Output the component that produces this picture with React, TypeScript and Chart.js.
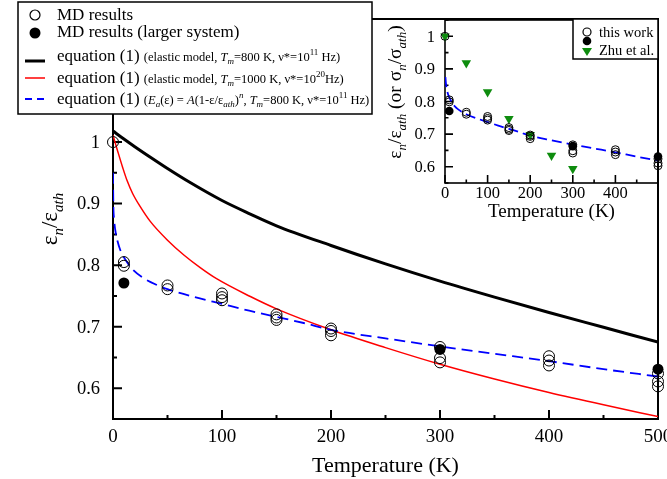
import React, { useEffect, useRef } from 'react';
import { Chart, registerables } from 'chart.js';
Chart.register(...registerables);

// ---------- data ----------
const mdTemps = [0, 10, 10, 50, 50, 100, 100, 100, 150, 150, 150, 200, 200, 200, 300, 300, 300, 400, 400, 400, 500, 500, 500];
const mdValues = [1.0, 0.805, 0.799, 0.767, 0.761, 0.754, 0.748, 0.743, 0.72, 0.715, 0.711, 0.697, 0.693, 0.686, 0.667, 0.649, 0.642, 0.652, 0.645, 0.637, 0.624, 0.611, 0.603];
const largeTemps = [10, 300, 500];
const largeValues = [0.771, 0.663, 0.631];

const blackTemps = [0, 10, 20, 35, 50, 70, 100, 126, 150, 200, 250, 300, 350, 400, 450, 500];
const blackValues = [1.018, 1.005, 0.9925, 0.9745, 0.957, 0.935, 0.905, 0.883, 0.864, 0.832, 0.802, 0.774, 0.748, 0.723, 0.699, 0.675];

const redTemps = [0, 4.5, 9, 13, 18, 25, 34, 50, 65, 80, 95, 126, 150, 200, 250, 300, 350, 400, 450, 500];
const redValues = [1.011, 0.984, 0.958, 0.937, 0.9165, 0.895, 0.8715, 0.8405, 0.8165, 0.796, 0.778, 0.749, 0.729, 0.695, 0.666, 0.639, 0.615, 0.593, 0.573, 0.554];

const blueTemps = [0, 0.3, 1, 2, 4, 7, 11, 18, 28, 40, 50, 75, 100, 125, 150, 175, 200, 250, 300, 350, 400, 450, 500];
const blueValues = [0.95, 0.9, 0.875, 0.858, 0.84, 0.823, 0.81, 0.793, 0.779, 0.768, 0.761, 0.748, 0.737, 0.726, 0.716, 0.706, 0.695, 0.681, 0.668, 0.656, 0.644, 0.631, 0.619];

const zhuTemps = [0, 50, 100, 150, 200, 250, 300];
const zhuValues = [1.0, 0.918, 0.829, 0.747, 0.698, 0.634, 0.594];

const mainXTicks = [0, 100, 200, 300, 400, 500];
const mainYTicks = [0.6, 0.7, 0.8, 0.9, 1.0];
const insetXTicks = [0, 100, 200, 300, 400];
const insetYTicks = [0.6, 0.7, 0.8, 0.9, 1.0];

// ---------- helpers ----------
const SERIF = '"Liberation Serif", "Times New Roman", serif';
type Seg = { t: string; size: number; italic?: boolean; dy?: number };
const fontOf = (s: Seg) => `${s.italic ? 'italic ' : ''}${s.size}px ${SERIF}`;

function richWidth(ctx: CanvasRenderingContext2D, segs: Seg[]) {
  let w = 0;
  for (const s of segs) {
    ctx.font = fontOf(s);
    w += ctx.measureText(s.t).width;
  }
  return w;
}
function drawRich(ctx: CanvasRenderingContext2D, segs: Seg[], x: number, y: number, align: 'left' | 'center') {
  let cx = align === 'center' ? x - richWidth(ctx, segs) / 2 : x;
  ctx.textAlign = 'left';
  ctx.textBaseline = 'alphabetic';
  ctx.fillStyle = '#000';
  for (const s of segs) {
    ctx.font = fontOf(s);
    ctx.fillText(s.t, cx, y + (s.dy || 0));
    cx += ctx.measureText(s.t).width;
  }
}
function drawRichRotated(ctx: CanvasRenderingContext2D, segs: Seg[], bx: number, cy: number) {
  ctx.save();
  ctx.translate(bx, cy);
  ctx.rotate(-Math.PI / 2);
  drawRich(ctx, segs, 0, 0, 'center');
  ctx.restore();
}
const pts = (xs: number[], ys: number[]) => xs.map((x, i) => ({ x, y: ys[i] }));
const fmt = (v: number) => (Math.abs(v - 1) < 1e-9 ? '1' : v.toFixed(1));

type FrameOpts = {
  lw: number; major: number; minor: number;
  xMinor: number; xMajor: number; yMinor: number; yMajor: number;
  xLabels: number[]; yLabels: number[]; fontSize: number; yFontSize: number;
  xLabelBaseline: number; yLabelGap: number;
};
function drawFrame(chart: any, o: FrameOpts) {
  const ctx: CanvasRenderingContext2D = chart.ctx;
  const { left, right, top, bottom } = chart.chartArea;
  const xs = chart.scales.x;
  const ys = chart.scales.y;
  ctx.save();
  ctx.strokeStyle = '#000';
  ctx.lineWidth = o.lw;
  ctx.strokeRect(left, top, right - left, bottom - top);
  ctx.beginPath();
  const nx = Math.round((xs.max - xs.min) / o.xMinor);
  for (let k = 0; k <= nx; k++) {
    const v = xs.min + k * o.xMinor;
    const r = v / o.xMajor;
    const len = Math.abs(r - Math.round(r)) < 1e-6 ? o.major : o.minor;
    const px = xs.getPixelForValue(v);
    ctx.moveTo(px, bottom);
    ctx.lineTo(px, bottom - len);
  }
  const ny = Math.round((ys.max - ys.min) / o.yMinor);
  for (let k = 0; k <= ny; k++) {
    const v = ys.min + k * o.yMinor;
    const r = v / o.yMajor;
    const len = Math.abs(r - Math.round(r)) < 1e-6 ? o.major : o.minor;
    const py = ys.getPixelForValue(v);
    ctx.moveTo(left, py);
    ctx.lineTo(left + len, py);
  }
  ctx.stroke();
  ctx.fillStyle = '#000';
  ctx.font = `${o.fontSize}px ${SERIF}`;
  ctx.textAlign = 'center';
  ctx.textBaseline = 'alphabetic';
  for (const v of o.xLabels) ctx.fillText(String(v), xs.getPixelForValue(v), o.xLabelBaseline);
  ctx.font = `${o.yFontSize}px ${SERIF}`;
  ctx.textAlign = 'right';
  ctx.textBaseline = 'middle';
  for (const v of o.yLabels) ctx.fillText(fmt(v), left - o.yLabelGap, ys.getPixelForValue(v) + 1);
  ctx.restore();
}

function circle(ctx: CanvasRenderingContext2D, x: number, y: number, r: number, filled: boolean) {
  ctx.beginPath();
  ctx.arc(x, y, r, 0, Math.PI * 2);
  if (filled) { ctx.fillStyle = '#000'; ctx.fill(); }
  else { ctx.strokeStyle = '#000'; ctx.lineWidth = 1.2; ctx.stroke(); }
}

const mainDecor = {
  id: 'mainDecor',
  beforeDatasetsDraw(chart: any) {
    drawFrame(chart, {
      lw: 2, major: 9, minor: 4, xMinor: 50, xMajor: 100, yMinor: 0.05, yMajor: 0.1,
      xLabels: mainXTicks, yLabels: mainYTicks, fontSize: 19, yFontSize: 18.5,
      xLabelBaseline: 442, yLabelGap: 13,
    });
    const ctx: CanvasRenderingContext2D = chart.ctx;
    const { left, right, top, bottom } = chart.chartArea;
    drawRich(ctx, [{ t: 'Temperature (K)', size: 22 }], (left + right) / 2, 472, 'center');
    drawRichRotated(ctx, [
      { t: 'ε', size: 23 }, { t: 'n', size: 15, italic: true, dy: 6 },
      { t: '/ε', size: 23 }, { t: 'ath', size: 15, italic: true, dy: 6 },
    ], 57, (top + bottom) / 2);
  },
  afterDraw(chart: any) {
    const ctx: CanvasRenderingContext2D = chart.ctx;
    ctx.save();
    ctx.fillStyle = '#fff';
    ctx.fillRect(18, 2, 354, 112);
    ctx.strokeStyle = '#000';
    ctx.lineWidth = 1.5;
    ctx.strokeRect(18, 2, 354, 112);
    circle(ctx, 35, 15, 5, false);
    circle(ctx, 35, 33, 5.5, true);
    ctx.lineWidth = 3; ctx.strokeStyle = '#000';
    ctx.beginPath(); ctx.moveTo(25, 61); ctx.lineTo(45, 61); ctx.stroke();
    ctx.lineWidth = 1.5; ctx.strokeStyle = '#ff0000';
    ctx.beginPath(); ctx.moveTo(25, 78); ctx.lineTo(45, 78); ctx.stroke();
    ctx.lineWidth = 2; ctx.strokeStyle = '#0000ff'; ctx.setLineDash([7, 5]);
    ctx.beginPath(); ctx.moveTo(25, 99); ctx.lineTo(45, 99); ctx.stroke();
    ctx.setLineDash([]);
    const tx = 57;
    const S = 12.5, s = 9;
    drawRich(ctx, [{ t: 'MD results', size: 17 }], tx, 20, 'left');
    drawRich(ctx, [{ t: 'MD results (larger system)', size: 17 }], tx, 37, 'left');
    drawRich(ctx, [
      { t: 'equation (1) ', size: 17 }, { t: '(elastic model, ', size: S }, { t: 'T', size: S, italic: true },
      { t: 'm', size: s, italic: true, dy: 3 }, { t: '=800 K, ν*=10', size: S }, { t: '11', size: s, dy: -6 },
      { t: ' Hz)', size: S },
    ], tx, 61, 'left');
    drawRich(ctx, [
      { t: 'equation (1) ', size: 17 }, { t: '(elastic model, ', size: S }, { t: 'T', size: S, italic: true },
      { t: 'm', size: s, italic: true, dy: 3 }, { t: '=1000 K, ν*=10', size: S }, { t: '20', size: s, dy: -6 },
      { t: 'Hz)', size: S },
    ], tx, 83, 'left');
    drawRich(ctx, [
      { t: 'equation (1) ', size: 17 }, { t: '(', size: S }, { t: 'E', size: S, italic: true },
      { t: 'a', size: s, italic: true, dy: 3 }, { t: '(ε) = ', size: S }, { t: 'A', size: S, italic: true },
      { t: '(1-ε/ε', size: S }, { t: 'ath', size: s, italic: true, dy: 3 }, { t: ')', size: S },
      { t: 'n', size: s, italic: true, dy: -6 }, { t: ', ', size: S }, { t: 'T', size: S, italic: true },
      { t: 'm', size: s, italic: true, dy: 3 }, { t: '=800 K, ν*=10', size: S }, { t: '11', size: s, dy: -6 },
      { t: ' Hz)', size: S },
    ], tx, 104, 'left');
    ctx.restore();
  },
};

const insetDecor = {
  id: 'insetDecor',
  beforeDatasetsDraw(chart: any) {
    drawFrame(chart, {
      lw: 1.6, major: 8, minor: 3.5, xMinor: 50, xMajor: 100, yMinor: 0.05, yMajor: 0.1,
      xLabels: insetXTicks, yLabels: insetYTicks, fontSize: 16.5, yFontSize: 16.5,
      xLabelBaseline: 198, yLabelGap: 10,
    });
    const ctx: CanvasRenderingContext2D = chart.ctx;
    const { left, right } = chart.chartArea;
    drawRich(ctx, [{ t: 'Temperature (K)', size: 19 }], (left + right) / 2, 217, 'center');
    drawRichRotated(ctx, [
      { t: 'ε', size: 19.5 }, { t: 'n', size: 13, italic: true, dy: 5 },
      { t: '/ε', size: 19.5 }, { t: 'ath', size: 13, italic: true, dy: 5 },
      { t: ' (or σ', size: 19.5 }, { t: 'n', size: 13, italic: true, dy: 5 },
      { t: '/σ', size: 19.5 }, { t: 'ath', size: 13, italic: true, dy: 5 },
      { t: ')', size: 19.5 },
    ], 16, 92);
  },
  afterDraw(chart: any) {
    const ctx: CanvasRenderingContext2D = chart.ctx;
    const { right, top } = chart.chartArea;
    const bx = right - 85, by = top - 1;
    ctx.save();
    ctx.fillStyle = '#fff';
    ctx.fillRect(bx, by, 85, 40);
    ctx.strokeStyle = '#000';
    ctx.lineWidth = 1.5;
    ctx.strokeRect(bx, by, 85, 40);
    circle(ctx, bx + 14, 32, 4, false);
    circle(ctx, bx + 14, 41, 4.3, true);
    ctx.fillStyle = '#0e8c0e';
    ctx.beginPath();
    ctx.moveTo(bx + 9, 48); ctx.lineTo(bx + 19, 48); ctx.lineTo(bx + 14, 56); ctx.closePath(); ctx.fill();
    drawRich(ctx, [{ t: 'this work', size: 14.5 }], bx + 26, 37, 'left');
    drawRich(ctx, [{ t: 'Zhu et al.', size: 14.5 }], bx + 26, 55, 'left');
    ctx.restore();
  },
};

const lineBase = { showLine: true, pointRadius: 0, cubicInterpolationMode: 'monotone' };

export default function App() {
  const mainRef = useRef<HTMLCanvasElement>(null);
  const insetRef = useRef<HTMLCanvasElement>(null);

  useEffect(() => {
    const main = new Chart(mainRef.current as HTMLCanvasElement, {
      type: 'scatter',
      data: {
        datasets: [
          { data: pts(largeTemps, largeValues), pointRadius: 5.5, pointBackgroundColor: '#000', pointBorderColor: '#000', pointBorderWidth: 0, clip: false } as any,
          { data: pts(mdTemps, mdValues), pointRadius: 5.5, pointBackgroundColor: 'rgba(0,0,0,0)', pointBorderColor: '#000', pointBorderWidth: 1, clip: false } as any,
          { ...lineBase, data: pts(blueTemps, blueValues), borderColor: '#0000ff', borderWidth: 1.8, borderDash: [11, 6] } as any,
          { ...lineBase, data: pts(redTemps, redValues), borderColor: '#ff0000', borderWidth: 1.5 } as any,
          { ...lineBase, data: pts(blackTemps, blackValues), borderColor: '#000', borderWidth: 3 } as any,
        ],
      },
      options: {
        responsive: false,
        animation: false,
        devicePixelRatio: 1,
        events: [],
        layout: { padding: { top: 19, right: 9, left: 0, bottom: 0 }, autoPadding: false } as any,
        plugins: { legend: { display: false }, tooltip: { enabled: false } },
        scales: {
          x: { type: 'linear', min: 0, max: 500, grid: { display: false }, border: { display: false }, ticks: { display: false }, afterFit: (s: any) => { s.height = 60; } },
          y: { type: 'linear', min: 0.55, max: 1.2, grid: { display: false }, border: { display: false }, ticks: { display: false }, afterFit: (s: any) => { s.width = 113; } },
        },
      } as any,
      plugins: [mainDecor],
    });

    const inset = new Chart(insetRef.current as HTMLCanvasElement, {
      type: 'scatter',
      data: {
        datasets: [
          { data: pts(mdTemps, mdValues), pointRadius: 4, pointBackgroundColor: 'rgba(0,0,0,0)', pointBorderColor: '#000', pointBorderWidth: 1, clip: false } as any,
          { data: pts(largeTemps, largeValues), pointRadius: 4.3, pointBackgroundColor: '#000', pointBorderColor: '#000', pointBorderWidth: 0, clip: false } as any,
          { data: pts(zhuTemps, zhuValues), pointStyle: 'triangle', rotation: 180, pointRadius: 5.5, pointBackgroundColor: '#0e8c0e', pointBorderColor: '#0e8c0e', pointBorderWidth: 0, clip: false } as any,
          { ...lineBase, data: pts(blueTemps.slice(2), blueValues.slice(2)), borderColor: '#0000ff', borderWidth: 1.8, borderDash: [10, 5] } as any,
        ],
      },
      options: {
        responsive: false,
        animation: false,
        devicePixelRatio: 1,
        events: [],
        layout: { padding: { top: 20, right: 9, left: 0, bottom: 0 }, autoPadding: false } as any,
        plugins: { legend: { display: false }, tooltip: { enabled: false } },
        scales: {
          x: { type: 'linear', min: 0, max: 500, grid: { display: false }, border: { display: false }, ticks: { display: false }, afterFit: (s: any) => { s.height = 42; } },
          y: { type: 'linear', min: 0.55, max: 1.05, grid: { display: false }, border: { display: false }, ticks: { display: false }, afterFit: (s: any) => { s.width = 60; } },
        },
      } as any,
      plugins: [insetDecor],
    });

    return () => { main.destroy(); inset.destroy(); };
  }, []);

  return (
    <div style={{ position: 'fixed', left: 0, top: 0, width: 667, height: 479, background: '#fff', overflow: 'hidden' }}>
      <canvas ref={mainRef} width={667} height={479} style={{ position: 'absolute', left: 0, top: 0, width: 667, height: 479 }} />
      <canvas ref={insetRef} width={282} height={225} style={{ position: 'absolute', left: 385, top: 0, width: 282, height: 225 }} />
    </div>
  );
}
